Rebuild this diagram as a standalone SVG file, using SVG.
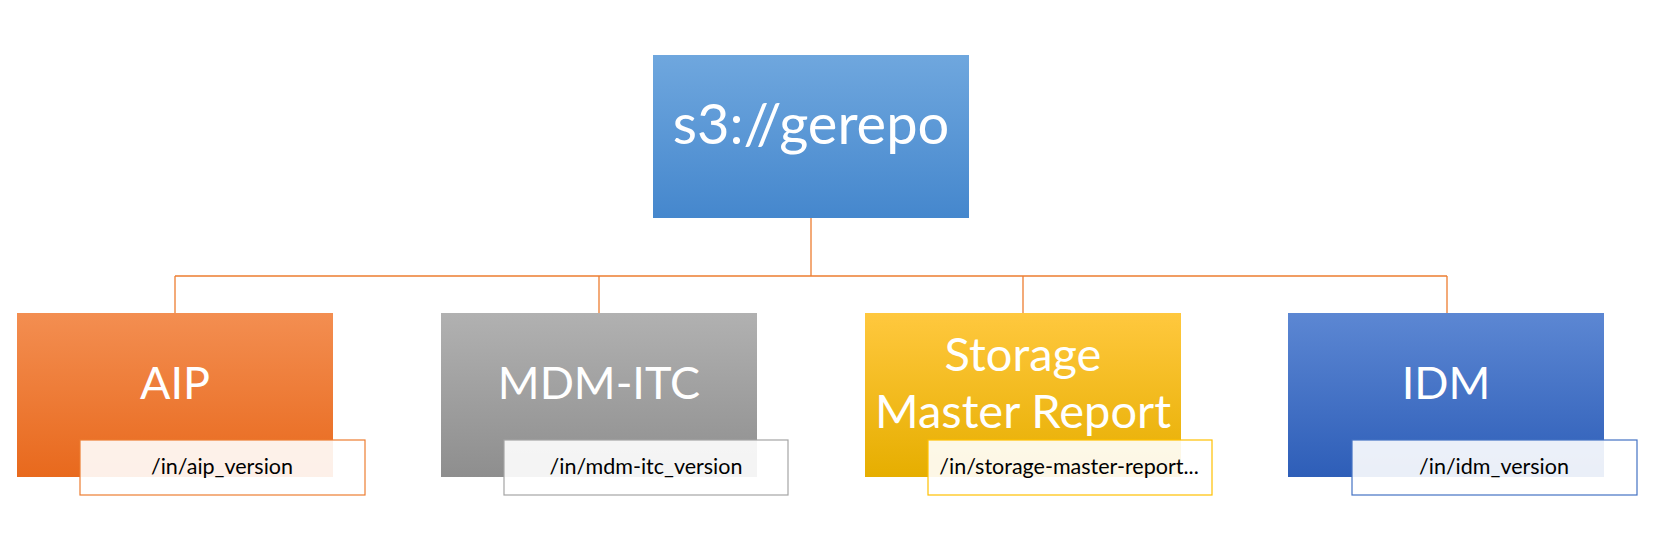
<svg xmlns="http://www.w3.org/2000/svg" width="1653" height="550" viewBox="0 0 1653 550">
<style>
.main{font-family:Lato,"Liberation Sans",sans-serif;fill:#fff;text-anchor:middle}
.lbl{font-family:Lato,"Liberation Sans",sans-serif;fill:#000;font-size:21.5px;text-anchor:middle}
.lb{fill:#fff;fill-opacity:0.9;stroke-width:1.2}
.conn{fill:none;stroke:#ED7D31;stroke-width:1.3}
</style>
<defs>
<linearGradient id="gTop" x1="0" y1="0" x2="0" y2="1"><stop offset="0" stop-color="#6FA7DE"/><stop offset="1" stop-color="#4587CD"/></linearGradient>
<linearGradient id="gAip" x1="0" y1="0" x2="0" y2="1"><stop offset="0" stop-color="#F38E51"/><stop offset="1" stop-color="#E8691D"/></linearGradient>
<linearGradient id="gMdm" x1="0" y1="0" x2="0" y2="1"><stop offset="0" stop-color="#B1B1B1"/><stop offset="1" stop-color="#8E8E8E"/></linearGradient>
<linearGradient id="gSto" x1="0" y1="0" x2="0" y2="1"><stop offset="0" stop-color="#FFC83E"/><stop offset="1" stop-color="#E6AE00"/></linearGradient>
<linearGradient id="gIdm" x1="0" y1="0" x2="0" y2="1"><stop offset="0" stop-color="#5C87D3"/><stop offset="1" stop-color="#2E5EB8"/></linearGradient>
</defs>
<g id="connectors">
<path class="conn" d="M811 218V276M175 276H1447M175 276V313M599 276V313M1023 276V313M1447 276V313"/>
</g>
<g id="root">
<rect x="653" y="55" width="316" height="163" fill="url(#gTop)"/>
<text class="main" x="811" y="144" font-size="56">s3://gerepo</text>
</g>
<g id="aip">
<rect x="17" y="313" width="316" height="164" fill="url(#gAip)"/>
<text class="main" x="175" y="399" font-size="45">AIP</text>
<rect class="lb" x="80" y="440" width="285" height="55" stroke="#ED7D31"/>
<text class="lbl" x="222" y="474">/in/aip_version</text>
</g>
<g id="mdm">
<rect x="441" y="313" width="316" height="164" fill="url(#gMdm)"/>
<text class="main" x="599" y="399" font-size="45">MDM-ITC</text>
<rect class="lb" x="504" y="440" width="284" height="55" stroke="#A5A5A5"/>
<text class="lbl" x="646" y="474">/in/mdm-itc_version</text>
</g>
<g id="storage">
<rect x="865" y="313" width="316" height="164" fill="url(#gSto)"/>
<text class="main" x="1023" y="371" font-size="47">Storage</text>
<text class="main" x="1023" y="428" font-size="47">Master Report</text>
<rect class="lb" x="928" y="440" width="284" height="55" stroke="#FFC000"/>
<text class="lbl" x="1069" y="474">/in/storage-master-report...</text>
</g>
<g id="idm">
<rect x="1288" y="313" width="316" height="164" fill="url(#gIdm)"/>
<text class="main" x="1446" y="399" font-size="45">IDM</text>
<rect class="lb" x="1352" y="440" width="285" height="55" stroke="#4472C4"/>
<text class="lbl" x="1494" y="474">/in/idm_version</text>
</g>
</svg>
